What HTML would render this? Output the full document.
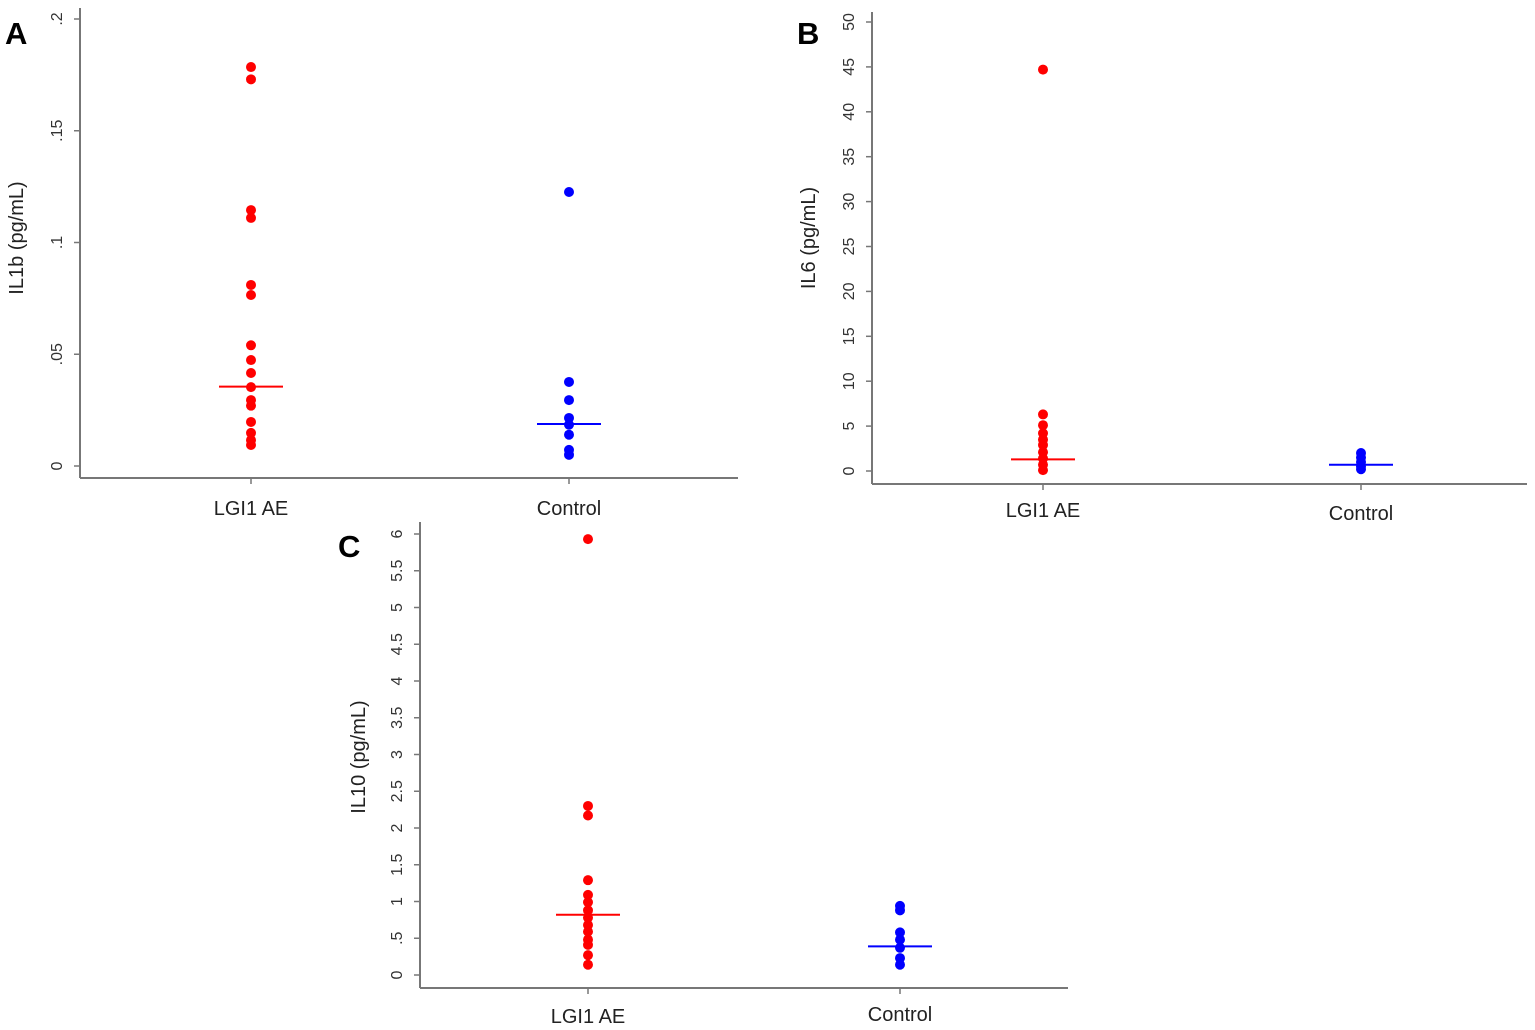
<!DOCTYPE html>
<html><head><meta charset="utf-8"><style>
html,body{margin:0;padding:0;background:#fff;}
svg{display:block;font-family:"Liberation Sans",Arial,sans-serif;}
</style></head><body>
<svg id="chart" width="1535" height="1030" viewBox="0 0 1535 1030" xmlns="http://www.w3.org/2000/svg"></svg>
<script>
const categories = ["LGI1 AE", "Control"];
// Panel A IL1b
const il1bLgi = [0.1785,0.173,0.1145,0.111,0.081,0.0765,0.054,0.0474,0.0416,0.0353,0.0295,0.027,0.0197,0.0148,0.0116,0.0094];
const il1bCtrl = [0.1226,0.0376,0.0295,0.0215,0.0185,0.014,0.0072,0.005];
const il1bLines = [0.0355,0.0188];
const il1bTicks = [0,0.05,0.1,0.15,0.2];
const il1bTickLabels = ["0",".05",".1",".15",".2"];
// Panel B IL6
const il6Lgi = [44.7,6.3,5.1,4.2,3.5,2.9,2.1,1.4,0.7,0.1];
const il6Ctrl = [2.0,1.5,1.0,0.5,0.2];
const il6Lines = [1.3,0.7];
const il6Ticks = [0,5,10,15,20,25,30,35,40,45,50];
const il6TickLabels = ["0","5","10","15","20","25","30","35","40","45","50"];
// Panel C IL10
const il10Lgi = [5.93,2.3,2.17,1.29,1.09,0.99,0.88,0.78,0.68,0.59,0.48,0.41,0.27,0.14];
const il10Ctrl = [0.94,0.88,0.58,0.48,0.37,0.23,0.14];
const il10Lines = [0.82,0.39];
const il10Ticks = [0,0.5,1,1.5,2,2.5,3,3.5,4,4.5,5,5.5,6];
const il10TickLabels = ["0",".5","1","1.5","2","2.5","3","3.5","4","4.5","5","5.5","6"];

const NS="http://www.w3.org/2000/svg";
const svg=document.getElementById('chart');
function mk(tag,attrs,parent,text){const e=document.createElementNS(NS,tag);for(const k in attrs)e.setAttribute(k,attrs[k]);if(text!==undefined)e.textContent=text;(parent||svg).appendChild(e);return e;}

function panel(cfg){
  const g=mk('g',{});
  
  
  const y=v=>cfg.y0-(v-cfg.vmin)/(cfg.vmax-cfg.vmin)*(cfg.y0-cfg.y1);
  const x=i=>cfg.xs[i];
  const ya=mk('line',{x1:cfg.ax,y1:cfg.yTop,x2:cfg.ax,y2:cfg.axY,stroke:'#777','stroke-width':2},g);
  
  
  const xa=mk('line',{x1:cfg.ax,y1:cfg.axY,x2:cfg.axR,y2:cfg.axY,stroke:'#777','stroke-width':2},g);
  
  
  cfg.ticks.forEach((t,i)=>{
    const ty=y(t);
    mk('line',{x1:cfg.ax-6,y1:ty,x2:cfg.ax,y2:ty,stroke:'#777','stroke-width':1.5},g);
    const lx=cfg.ax-18;
    const tl=mk('text',{x:lx,y:ty,transform:`rotate(-90 ${lx} ${ty})`,'text-anchor':'middle','font-size':16,fill:'#333'},g,cfg.tickLabels[i]);
    
    
  });
  categories.forEach((c,i)=>{
    mk('line',{x1:x(i),y1:cfg.axY,x2:x(i),y2:cfg.axY+6,stroke:'#777','stroke-width':1.5},g);
    const cl=mk('text',{x:x(i),y:cfg.labY[i],'text-anchor':'middle','font-size':20,fill:'#222'},g,c);
    
    
  });
  const tx=cfg.titleX, ty=cfg.titleY;
  const tt=mk('text',{x:tx,y:ty,transform:`rotate(-90 ${tx} ${ty})`,'text-anchor':'middle','font-size':20,fill:'#222'},g,cfg.title);
  
  
  const pl=mk('text',{x:cfg.letterX,y:cfg.letterY,'font-size':31,'font-weight':'bold',fill:'#000'},g,cfg.letter);
  
  
  const series=[[cfg.a,'#ff0000'],[cfg.b,'#0000ff']];
  series.forEach((s,i)=>{
    s[0].forEach(v=>{
      const d=mk('circle',{cx:x(i),cy:y(v),r:5,fill:s[1]},g);
      
      
    });
    const ly=y(cfg.lines[i]);
    const ml=mk('line',{x1:x(i)-32,y1:ly,x2:x(i)+32,y2:ly,stroke:s[1],'stroke-width':2},g);
    
    
  });
}
panel({id:'il1b',vmin:0,vmax:0.2,y0:466,y1:19,yTop:8,ax:80,axY:478,axR:738,xs:[251,569],labY:[515,515],
  ticks:il1bTicks,tickLabels:il1bTickLabels,a:il1bLgi,b:il1bCtrl,lines:il1bLines,
  title:'IL1b (pg/mL)',titleX:23,titleY:238,letter:'A',letterX:5,letterY:44});
panel({id:'il6',vmin:0,vmax:50,y0:471,y1:22,yTop:12,ax:872,axY:484,axR:1527,xs:[1043,1361],labY:[517,520],
  ticks:il6Ticks,tickLabels:il6TickLabels,a:il6Lgi,b:il6Ctrl,lines:il6Lines,
  title:'IL6 (pg/mL)',titleX:815,titleY:238,letter:'B',letterX:797,letterY:44});
panel({id:'il10',vmin:0,vmax:6,y0:975,y1:534,yTop:522,ax:420,axY:988,axR:1068,xs:[588,900],labY:[1023,1021],
  ticks:il10Ticks,tickLabels:il10TickLabels,a:il10Lgi,b:il10Ctrl,lines:il10Lines,
  title:'IL10 (pg/mL)',titleX:365,titleY:757,letter:'C',letterX:338,letterY:557});
</script>
</body></html>
